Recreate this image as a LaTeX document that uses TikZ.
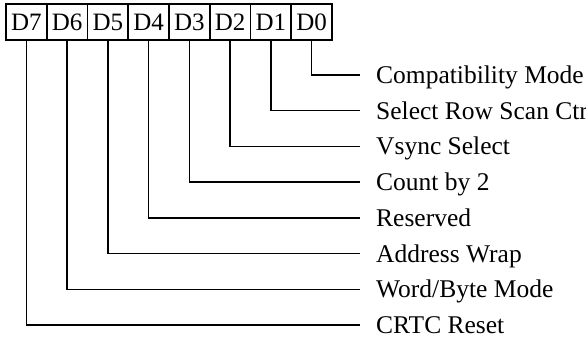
\documentclass[tikz,border=0pt]{standalone}
\usepackage{fontspec}
\setmainfont{Liberation Serif}
\begin{document}
\begin{tikzpicture}[x=1pt,y=-1pt,
  bitcell/.style={draw,line width=1.6pt,minimum width=40.75pt,minimum height=36pt,inner sep=0pt,font=\fontsize{25}{28}\selectfont},
  bitlabel/.style={anchor=west,inner xsep=0pt,inner ysep=0pt,text height=16.8pt,text depth=0pt,font=\fontsize{25.5}{28}\selectfont},
  wire/.style={line width=1.6pt,shorten >=16pt}]
\useasboundingbox (0,0) rectangle (586,339);
\foreach \i/\n in {0/7,1/6,2/5,3/4,4/3,5/2,6/1,7/0}{
  \node[bitcell] (d\n) at ({6+40.75*(\i+0.5)},22) {D\n};
}
\node[bitlabel] (l0) at (376,75) {Compatibility Mode};
\node[bitlabel] (l1) at (376,110.7) {Select Row Scan Ctr};
\node[bitlabel] (l2) at (376,146.4) {Vsync Select};
\node[bitlabel] (l3) at (376,182.1) {Count by 2};
\node[bitlabel] (l4) at (376,217.9) {Reserved};
\node[bitlabel] (l5) at (376,253.6) {Address Wrap};
\node[bitlabel] (l6) at (376,289.3) {Word/Byte Mode};
\node[bitlabel] (l7) at (376,325) {CRTC Reset};
\foreach \n in {0,...,7}{
  \draw[wire] (d\n.south) |- (l\n.west);
}
\end{tikzpicture}
\end{document}
